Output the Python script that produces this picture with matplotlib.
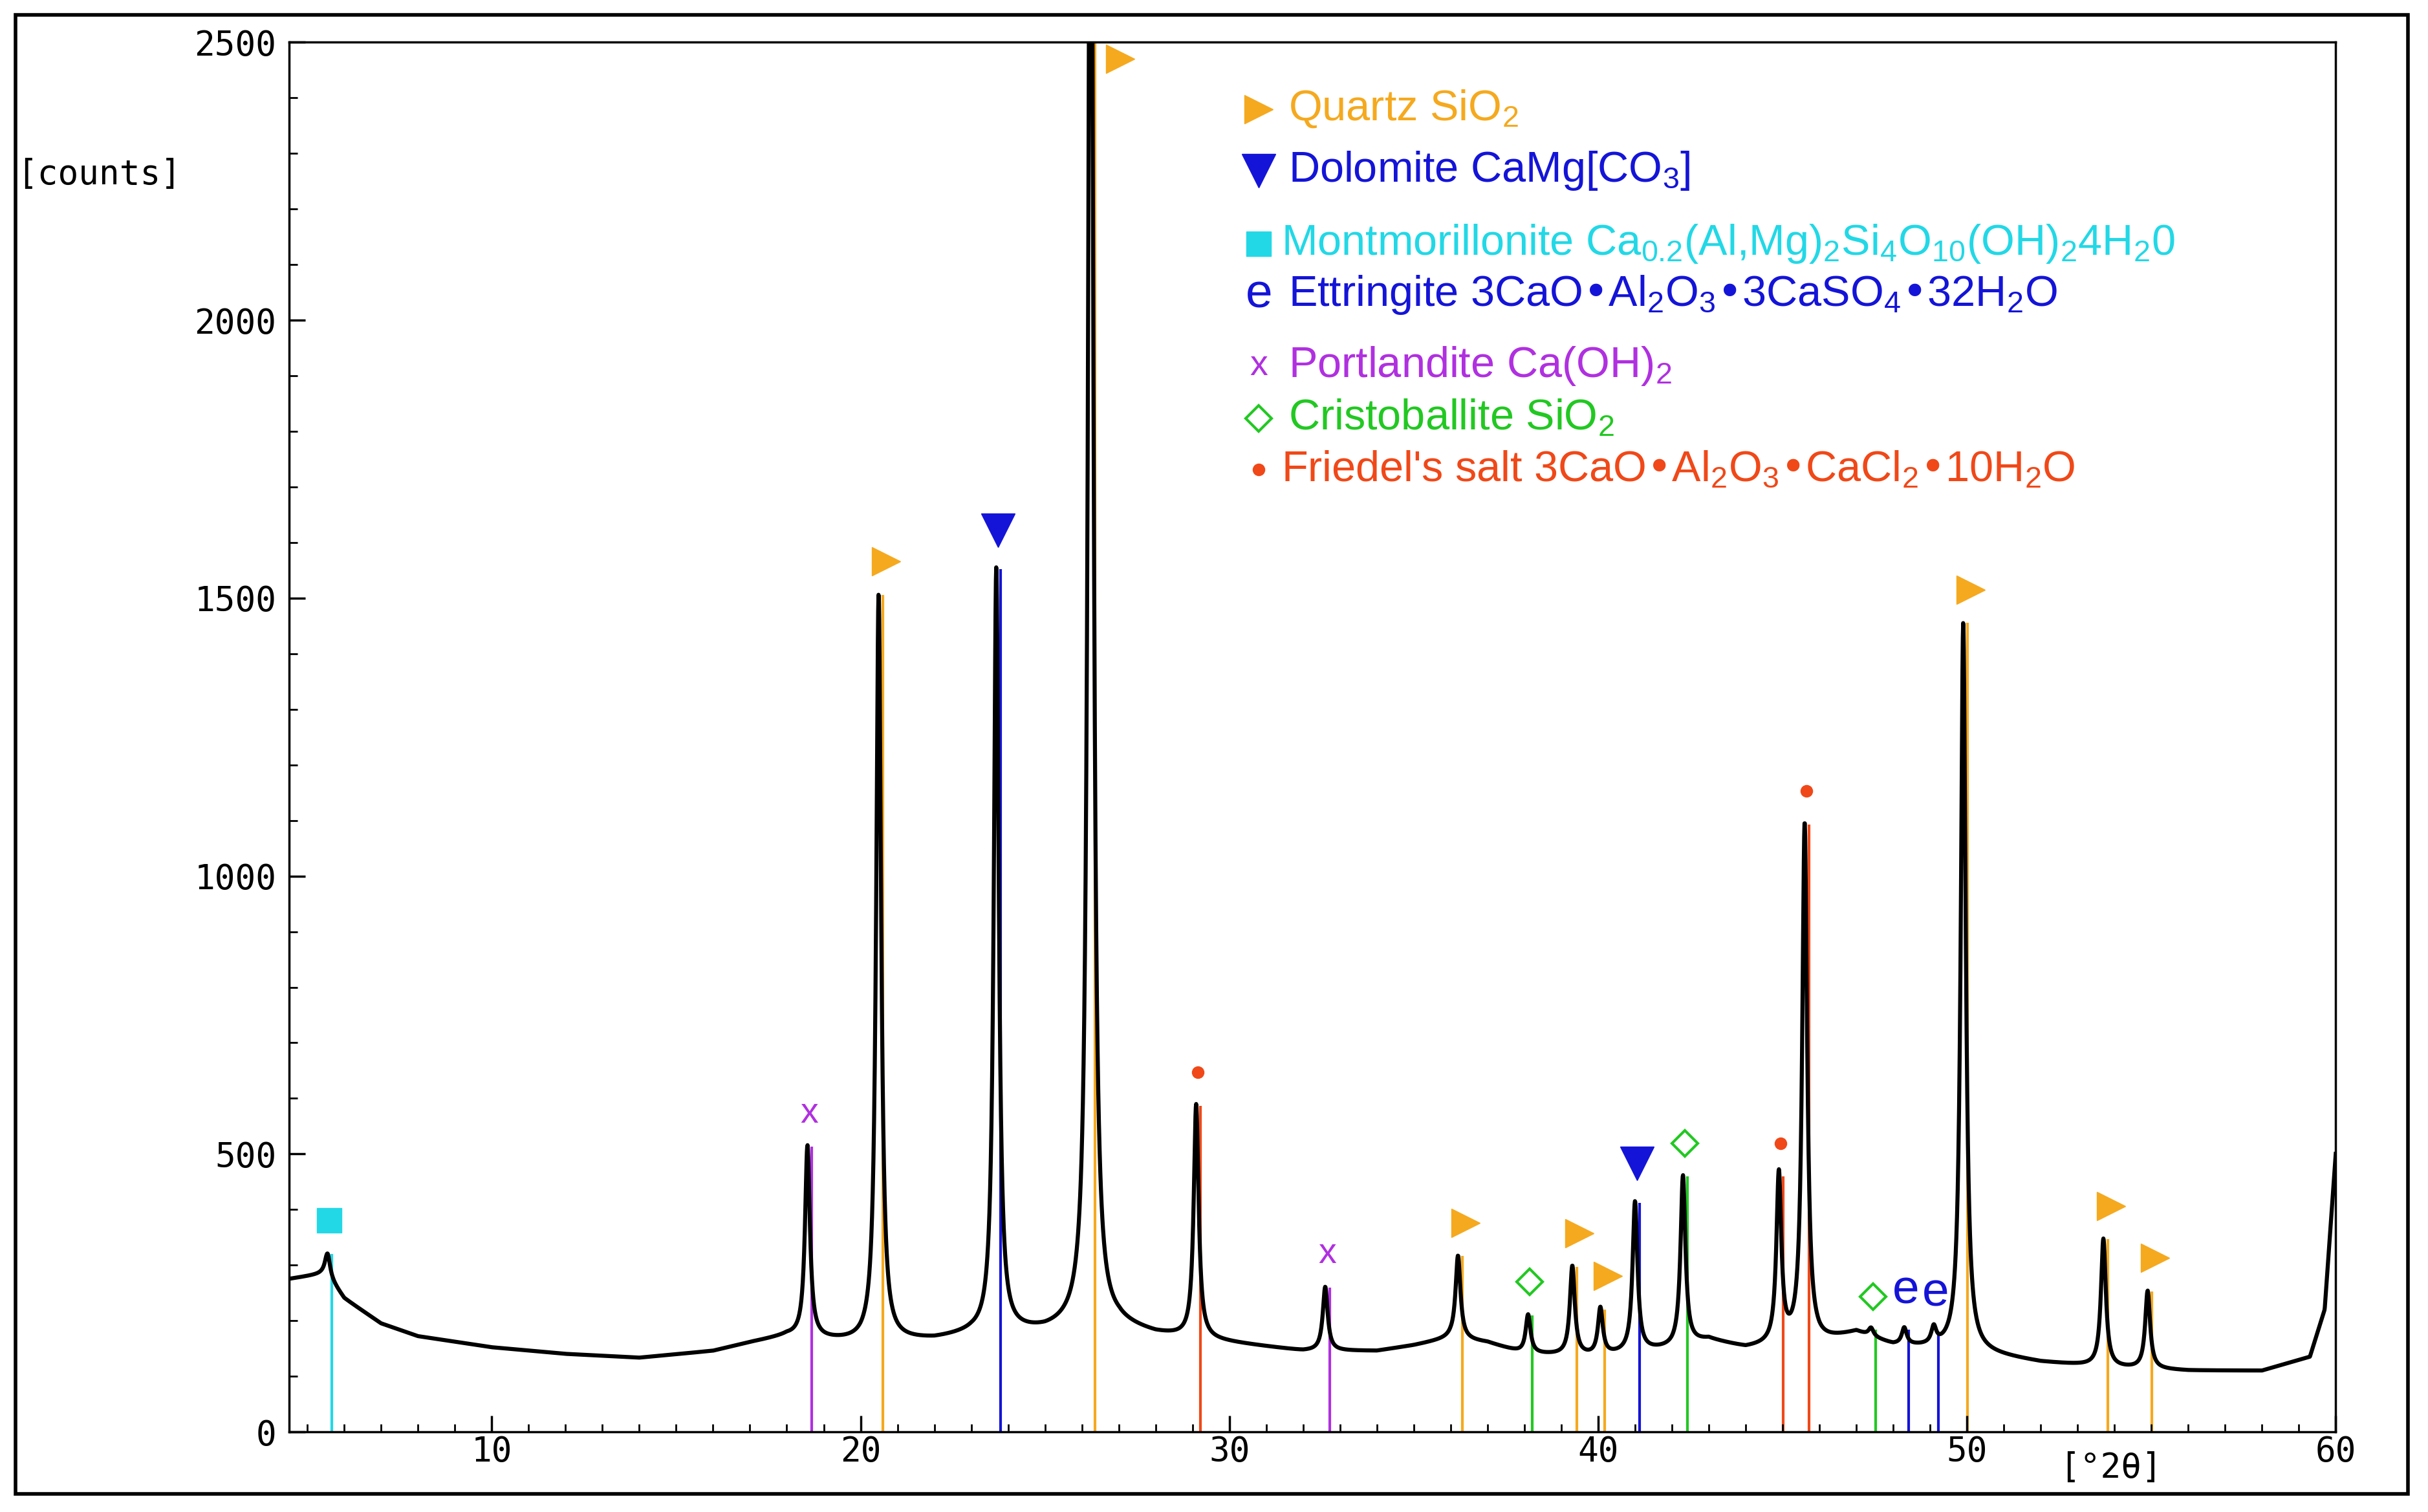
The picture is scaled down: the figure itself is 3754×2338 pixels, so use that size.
import numpy as np
import matplotlib
matplotlib.use("Agg")
import matplotlib.pyplot as plt
from matplotlib.patches import Rectangle

plt.rcParams['font.family'] = ['Liberation Sans', 'DejaVu Sans']
plt.rcParams['mathtext.default'] = 'regular'

# background (2theta, counts)
base_x = [4.5, 5.5, 6.0, 7, 8, 10, 12, 14, 16, 17, 18, 19, 20, 22, 23, 25, 26, 27, 28, 30, 32, 34, 35, 36, 37, 38, 40, 42, 43, 44, 46, 47, 48, 50, 52, 54, 56, 58, 59.3, 59.7, 60]
base_y = [275, 285, 240, 195, 172, 152, 140, 133, 145, 160, 172, 165, 160, 165, 175, 180, 190, 190, 175, 160, 145, 145, 155, 168, 160, 140, 135, 150, 165, 150, 160, 178, 155, 145, 125, 115, 110, 110, 135, 220, 500]

# peaks: position, height (counts above background), phase
peak_pos = [5.55, 18.56, 20.49, 23.68, 26.24, 29.1, 32.6, 36.2, 38.1, 39.3, 40.06, 41.0, 42.3, 44.9, 45.6, 47.4, 48.3, 49.1, 49.9, 53.7, 54.9]
peak_h   = [40, 345, 1345, 1375, 3200, 420, 115, 150, 70, 160, 85, 270, 305, 305, 935, 15, 30, 30, 1310, 230, 140]
phase    = ['M', 'P', 'Q', 'D', 'Q', 'F', 'P', 'Q', 'C', 'Q', 'Q', 'D', 'C', 'F', 'F', 'C', 'E', 'E', 'Q', 'Q', 'Q']

colors = {'Q': '#F5A91E', 'D': '#1414D8', 'M': '#22D8E6', 'E': '#1414D8',
          'P': '#B030E0', 'C': '#22C822', 'F': '#F04818'}

legend_labels = [
    ('Q', r"Quartz SiO$_2$"),
    ('D', r"Dolomite CaMg[CO$_3$]"),
    ('M', r"Montmorillonite Ca$_{0.2}$(Al,Mg)$_2$Si$_4$O$_{10}$(OH)$_2$4H$_2$0"),
    ('E', r"Ettringite 3CaO•Al$_2$O$_3$•3CaSO$_4$•32H$_2$O"),
    ('P', r"Portlandite Ca(OH)$_2$"),
    ('C', r"Cristoballite SiO$_2$"),
    ('F', r"Friedel's salt 3CaO•Al$_2$O$_3$•CaCl$_2$•10H$_2$O"),
]
legend_y = [2380, 2269, 2138, 2046, 1918, 1823, 1731]

x = np.linspace(4.5, 60, 6000)
y = np.interp(x, base_x, base_y)
for p, h in zip(peak_pos, peak_h):
    w = 0.08
    y = y + h * w**2 / ((x - p)**2 + w**2)

fig = plt.figure(figsize=(37.54, 23.38), dpi=100)
fig.patches.append(Rectangle((0.0064, 0.012), 0.9853, 0.978, transform=fig.transFigure,
                             fill=False, lw=4, edgecolor='black'))
ax = fig.add_axes([0.119, 0.053, 0.843, 0.919])
ax.set_xlim(4.5, 60)
ax.set_ylim(0, 2500)

peak_top = [np.interp(p, base_x, base_y) + h for p, h in zip(peak_pos, peak_h)]
for p, t, ph in zip(peak_pos, peak_top, phase):
    ax.vlines(p + 0.12, 0, min(t, 2500), color=colors[ph], lw=3, zorder=1)

ax.plot(x, y, color='black', lw=4.5, zorder=2)

def mark(ax, xx, yy, ph, size=1.0):
    c = colors[ph]
    if ph == 'Q':
        ax.plot(xx, yy, marker='>', ms=32*size, color=c, mec=c, ls='none', clip_on=False)
    elif ph == 'D':
        ax.plot(xx, yy, marker='v', ms=38*size, color=c, mec=c, ls='none', clip_on=False)
    elif ph == 'M':
        ax.plot(xx, yy, marker='s', ms=28*size, color=c, mec=c, ls='none', clip_on=False)
    elif ph == 'C':
        ax.plot(xx, yy, marker='D', ms=20*size, mfc='white', mec=c, mew=3, ls='none', clip_on=False)
    elif ph == 'F':
        ax.plot(xx, yy, marker='o', ms=13*size, color=c, mec=c, ls='none', clip_on=False)
    elif ph == 'P':
        ax.text(xx, yy, 'x', color=c, fontsize=40, ha='center', va='center')
    elif ph == 'E':
        ax.text(xx, yy, 'e', color=c, fontsize=54, ha='center', va='center')

for p, t, ph in zip(peak_pos, peak_top, phase):
    if t > 2500:
        mark(ax, p + 0.8, 2470, ph)
    else:
        off = {'D': 70, 'E': 70}.get(ph, 60)
        mark(ax, p + (0.2 if ph == 'Q' else 0.05), t + off, ph)

for (ph, lab), ly in zip(legend_labels, legend_y):
    mark(ax, 30.8, ly, ph)
    ax.text(31.6 if ph not in ('M', 'F') else 31.4, ly, lab, color=colors[ph], fontsize=48, va='center', ha='left')

ax.set_yticks([0, 500, 1000, 1500, 2000, 2500])
ax.set_yticks(np.arange(0, 2501, 100), minor=True)
ax.set_xticks([10, 20, 30, 40, 50, 60])
ax.set_xticks(np.arange(5, 61, 1), minor=True)
ax.tick_params(axis='both', which='major', direction='in', length=18, width=2.5, labelsize=38)
ax.tick_params(axis='both', which='minor', direction='in', length=9, width=2)
ax.tick_params(axis='y', pad=14)
for s in ax.spines.values():
    s.set_linewidth(2.5)
for lbl in ax.get_yticklabels() + ax.get_xticklabels():
    lbl.set_family(['DejaVu Sans Mono', 'DejaVu Sans'])
ax.text(-0.133, 0.905, '[counts]', transform=ax.transAxes, fontsize=38,
        family=['DejaVu Sans Mono'], ha='left', va='center')
ax.text(0.89, -0.026, '[°2θ]', transform=ax.transAxes, fontsize=38,
        family=['DejaVu Sans Mono'], ha='center', va='center')

fig.savefig('out.png', dpi=100)
